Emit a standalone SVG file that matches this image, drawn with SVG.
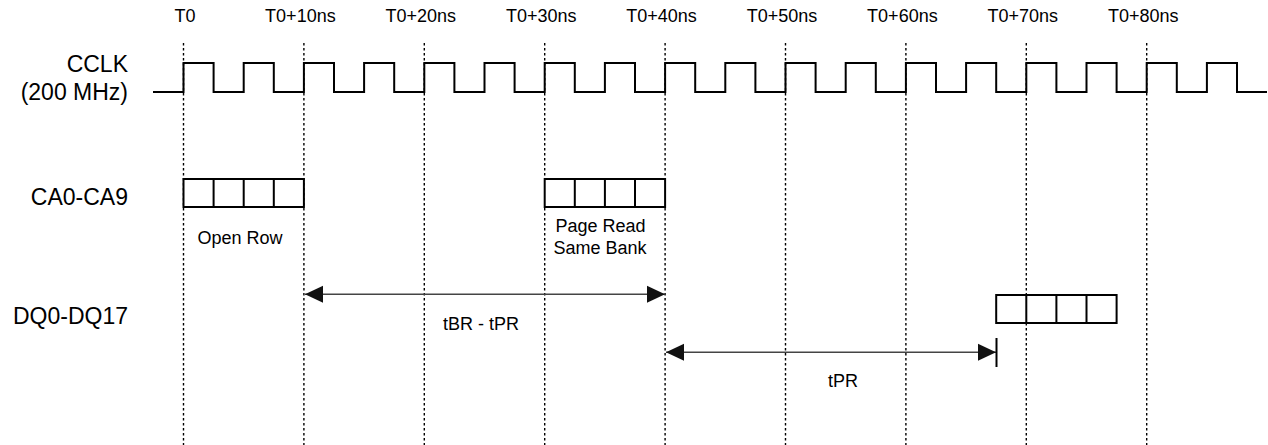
<svg xmlns="http://www.w3.org/2000/svg" width="1268" height="445" viewBox="0 0 1268 445">
<style>
text{font-family:"Liberation Sans",Arial,sans-serif;fill:#000}
.t{font-size:18px;text-anchor:middle}
.lbl{font-size:23px;text-anchor:end}
.grid{stroke:#000;stroke-width:1.4;stroke-dasharray:2.5 2.5;fill:none}
.sig{stroke:#000;stroke-width:2;fill:none}
.box{stroke:#000;stroke-width:2;fill:#fff}
.dim{stroke:#444;stroke-width:1.4;fill:none}
</style>
<defs>
<marker id="ah" viewBox="0 0 18 18" refX="18" refY="9" markerWidth="18" markerHeight="18" markerUnits="userSpaceOnUse" orient="auto-start-reverse">
<path d="M0,0.5 L18,9 L0,17.5 Z" fill="#111"/>
</marker>
</defs>
<rect width="1268" height="445" fill="#fff"/>
<g id="gridlines">
<path class="grid" d="M183.5,43V445M303.9,43V445M424.3,43V445M544.7,43V445M665.1,43V445M785.5,43V445M905.9,43V445M1026.3,43V445M1146.7,43V445"/>
</g>
<g id="time-labels">
<text class="t" x="185" y="22">T0</text>
<text class="t" x="300.4" y="22">T0+10ns</text>
<text class="t" x="420.8" y="22">T0+20ns</text>
<text class="t" x="541.2" y="22">T0+30ns</text>
<text class="t" x="661.6" y="22">T0+40ns</text>
<text class="t" x="782" y="22">T0+50ns</text>
<text class="t" x="902.4" y="22">T0+60ns</text>
<text class="t" x="1022.8" y="22">T0+70ns</text>
<text class="t" x="1143.2" y="22">T0+80ns</text>
</g>
<g id="cclk">
<text class="lbl" x="128" y="71.5">CCLK</text>
<text class="lbl" x="128" y="100">(200 MHz)</text>
<path class="sig" d="M153,92H183.5V63H213.6V92H243.7V63H273.8V92H303.9V63H334V92H364.1V63H394.2V92H424.3V63H454.4V92H484.5V63H514.6V92H544.7V63H574.8V92H604.9V63H635V92H665.1V63H695.2V92H725.3V63H755.4V92H785.5V63H815.6V92H845.7V63H875.8V92H905.9V63H936V92H966.1V63H996.2V92H1026.3V63H1056.4V92H1086.5V63H1116.6V92H1146.7V63H1176.8V92H1206.9V63H1237V92H1267"/>
</g>
<g id="ca-label">
<text class="lbl" x="128" y="205">CA0-CA9</text>
</g>
<g id="ca-open-row">
<rect class="box" x="183.5" y="179" width="120.4" height="28"/>
<path class="sig" d="M213.6,179V207M243.7,179V207M273.8,179V207"/>
<text class="t" x="240" y="244">Open Row</text>
</g>
<g id="ca-page-read">
<rect class="box" x="544.7" y="179" width="120.4" height="28"/>
<path class="sig" d="M574.8,179V207M604.9,179V207M635,179V207"/>
<text class="t" x="600.5" y="231.5">Page Read</text>
<text class="t" x="600" y="254">Same Bank</text>
</g>
<g id="dq-label">
<text class="lbl" x="128" y="323.5">DQ0-DQ17</text>
</g>
<g id="dq-burst">
<rect class="box" x="996.2" y="295" width="120.4" height="28"/>
<path class="sig" d="M1026.3,295V323M1056.4,295V323M1086.5,295V323"/>
</g>
<g id="connectors">
<line class="dim" x1="305" y1="294.3" x2="665" y2="294.3" marker-start="url(#ah)" marker-end="url(#ah)"/>
<text class="t" x="481" y="330">tBR - tPR</text>
<line class="dim" x1="666" y1="352.3" x2="996" y2="352.3" marker-start="url(#ah)" marker-end="url(#ah)"/>
<line x1="996.5" y1="338" x2="996.5" y2="367" stroke="#000" stroke-width="2"/>
<text class="t" x="843" y="387">tPR</text>
</g>
</svg>
